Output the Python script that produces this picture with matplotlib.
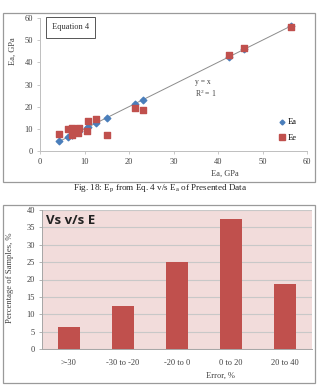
import matplotlib
matplotlib.use("Agg")
import matplotlib.pyplot as plt
from matplotlib.patches import Rectangle
from matplotlib.lines import Line2D

W, H = 323, 386

# ---- data: top scatter ----
ea_x = [4.3, 6.2, 7.1, 7.3, 8.6, 8.8, 10.6, 10.7, 12.5, 15.0, 21.3, 23.2, 42.5, 45.8, 56.4]
ea_y = ea_x[:]
ee_x = [4.3, 6.2, 7.1, 7.3, 8.6, 8.8, 10.6, 10.7, 12.5, 15.0, 21.3, 23.2, 42.5, 45.8, 56.4]
ee_y = [7.8, 10.1, 7.2, 10.5, 8.0, 10.2, 9.0, 13.4, 14.6, 7.2, 19.4, 18.3, 43.3, 46.6, 55.8]
scatter_ticks = [0, 10, 20, 30, 40, 50, 60]

# ---- data: bottom bars ----
categories = [">-30", "-30 to -20", "-20 to 0", "0 to 20", "20 to 40"]
percent = [6.25, 12.5, 25.0, 37.5, 18.75]
bar_yticks = [0, 5, 10, 15, 20, 25, 30, 35, 40]

serif = ["Liberation Serif", "DejaVu Serif"]
plt.rcParams["font.family"] = serif
plt.rcParams["mathtext.fontset"] = "custom"
plt.rcParams["mathtext.rm"] = "Liberation Serif"

fig = plt.figure(figsize=(W / 100, H / 100), dpi=100)

def frac(x0, y0, x1, y1):
    return [x0 / W, 1 - y1 / H, (x1 - x0) / W, (y1 - y0) / H]

def border(x0, y0, x1, y1):
    l, b, w, h = frac(x0, y0, x1, y1)
    fig.patches.append(Rectangle((l, b), w, h, transform=fig.transFigure,
                                 fill=False, edgecolor="#9a9a9a", lw=0.9))

# ---------- top chart ----------
border(3, 13, 315, 182)
ax = fig.add_axes(frac(40, 18, 307, 151))
ax.plot([min(ea_x), max(ea_x)], [min(ea_x), max(ea_x)], color="#8c8c8c", lw=0.7, zorder=1)
ax.scatter(ee_x, ee_y, marker="s", s=24, color="#c0504d", zorder=3, label="Ee")
ax.scatter(ea_x, ea_y, marker="D", s=11, color="#4a7ebb", zorder=2, label="Ea")
ax.set_xlim(0, 60)
ax.set_ylim(0, 60)
ax.set_xticks(scatter_ticks)
ax.set_yticks(scatter_ticks)
for s in ["top", "right"]:
    ax.spines[s].set_visible(False)
for s in ["left", "bottom"]:
    ax.spines[s].set_color("#bfbfbf")
    ax.spines[s].set_linewidth(0.7)
ax.tick_params(labelsize=6, colors="#bfbfbf", labelcolor="#404040", length=2, width=0.6, pad=3)
ax.text(0.045, 0.93, "Equation 4", transform=ax.transAxes, fontsize=6,
        va="center", ha="left", color="#333333",
        bbox=dict(boxstyle="square,pad=0.75", fc="white", ec="#555555", lw=0.7))
ax.text(0.58, 0.47, "y = x\nR$^2$ = 1", transform=ax.transAxes, fontsize=5.5,
        ha="left", va="center", color="#404040", linespacing=1.1)
handles = [Line2D([], [], marker="D", ls="none", color="#4a7ebb", ms=2.5),
           Line2D([], [], marker="s", ls="none", color="#c0504d", ms=4)]
ax.legend(handles, ["Ea", "Ee"], loc="lower left", bbox_to_anchor=(0.88, 0.04),
          frameon=False, fontsize=6, labelspacing=0.95, handletextpad=0.1,
          handlelength=1.0, borderaxespad=0)
fig.text(13 / W, 1 - 51 / H, "Ea, GPa", rotation=90, fontsize=6, ha="center", va="center", color="#404040")
fig.text(225 / W, 1 - 174 / H, "Ea, GPa", fontsize=6, ha="center", va="center", color="#404040")

fig.text(160 / W, 1 - 189 / H, r"Fig. 18: E$_\mathregular{p}$ from Eq. 4 v/s E$_\mathregular{a}$ of Presented Data",
         fontsize=6.6, ha="center", va="center", color="#222222")

# ---------- bottom chart ----------
border(3, 205, 315, 383)
bx = fig.add_axes(frac(42, 210, 312, 349))
bx.set_facecolor("#f2dcdb")
bx.bar(range(len(categories)), percent, width=0.42, color="#c0504d", zorder=3)
bx.set_ylim(0, 40)
bx.set_xlim(-0.5, len(categories) - 0.5)
bx.set_yticks(bar_yticks)
bx.set_xticks(range(len(categories)))
bx.set_xticklabels(categories)
bx.yaxis.grid(True, color="#c8c8c8", lw=0.8, zorder=0)
bx.set_axisbelow(True)
for s in ["top", "right"]:
    bx.spines[s].set_visible(False)
for s in ["left", "bottom"]:
    bx.spines[s].set_color("#a6a6a6")
    bx.spines[s].set_linewidth(0.7)
bx.tick_params(labelsize=6, colors="#a6a6a6", labelcolor="#404040", length=2, width=0.6, pad=3)
bx.tick_params(axis="x", length=0, pad=7)
bx.text(0.015, 0.925, "Vs v/s E", transform=bx.transAxes, fontsize=9.5, fontweight="bold",
        family=["Open Sans", "DejaVu Sans"], ha="left", va="center", color="#222222")
fig.text(10 / W, 1 - 278 / H, "Percentage of Samples, %", rotation=90, fontsize=6.2,
         ha="center", va="center", color="#404040")
fig.text(220 / W, 1 - 376 / H, "Error, %", fontsize=6, ha="center", va="center", color="#404040")

fig.savefig("out.png", dpi=100)
